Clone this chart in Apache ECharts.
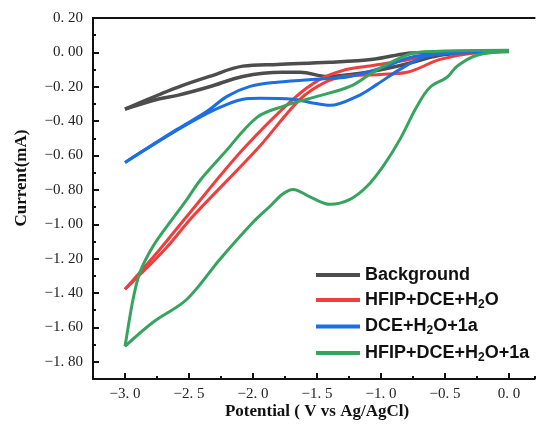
<!DOCTYPE html>
<html>
<head>
<meta charset="utf-8">
<script src="https://cdn.jsdelivr.net/npm/echarts@6/dist/echarts.min.js"></script>
<style>html,body{margin:0;padding:0;background:#fff;}#c{width:536px;height:431px;}</style>
</head>
<body>
<div id="c"></div>
<script>
// ---- data: [potential (V), current (mA)] ----
const backgroundFwd = [[0.0,0.005],[-0.30,-0.002],[-0.54,-0.017],[-0.85,-0.076],[-1.16,-0.122],[-1.42,-0.14],[-1.63,-0.116],[-1.77,-0.116],[-2.08,-0.14],[-2.34,-0.20],[-2.59,-0.25],[-2.73,-0.27],[-3.0,-0.33]];
const backgroundRev = [[-3.0,-0.33],[-2.73,-0.245],[-2.59,-0.203],[-2.34,-0.14],[-2.08,-0.08],[-1.81,-0.07],[-1.40,-0.058],[-1.06,-0.04],[-0.80,-0.006],[-0.62,0.0],[0.0,0.01]];

const hfipFwd = [[0.0,0.006],[-0.305,-0.006],[-0.539,-0.041],[-0.797,-0.116],[-1.008,-0.128],[-1.281,-0.14],[-1.438,-0.174],[-1.633,-0.273],[-1.969,-0.564],[-2.469,-0.953],[-2.688,-1.145],[-3.0,-1.378]];
const hfipRev = [[-3.0,-1.378],[-2.727,-1.145],[-2.516,-0.953],[-2.078,-0.564],[-1.688,-0.273],[-1.477,-0.157],[-1.297,-0.105],[-1.109,-0.081],[-0.852,-0.052],[-0.617,-0.017],[-0.383,0.0],[0.0,0.006]];

const dceFwd = [[0.0,0.006],[-0.461,0.0],[-0.672,-0.029],[-0.852,-0.099],[-1.031,-0.186],[-1.188,-0.256],[-1.398,-0.308],[-1.555,-0.291],[-1.688,-0.273],[-1.945,-0.267],[-2.078,-0.273],[-2.203,-0.302],[-2.359,-0.355],[-2.594,-0.453],[-3.0,-0.64]];
const dceRev = [[-3.0,-0.64],[-2.594,-0.448],[-2.359,-0.343],[-2.203,-0.256],[-2.023,-0.198],[-1.813,-0.174],[-1.398,-0.151],[-1.242,-0.14],[-0.984,-0.087],[-0.773,-0.029],[-0.594,-0.012],[0.0,0.006]];

const fullFwd = [[0.0,0.006],[-0.25,-0.017],[-0.406,-0.081],[-0.484,-0.145],[-0.617,-0.203],[-0.719,-0.314],[-0.852,-0.506],[-0.984,-0.663],[-1.109,-0.779],[-1.242,-0.855],[-1.398,-0.884],[-1.555,-0.84],[-1.688,-0.797],[-1.77,-0.825],[-1.867,-0.895],[-2.0,-0.988],[-2.258,-1.203],[-2.516,-1.436],[-2.781,-1.57],[-3.0,-1.71]];
const fullRev = [[-3.0,-1.71],[-2.98,-1.62],[-2.937,-1.436],[-2.883,-1.279],[-2.781,-1.128],[-2.648,-0.988],[-2.516,-0.855],[-2.414,-0.745],[-2.234,-0.593],[-1.969,-0.378],[-1.766,-0.314],[-1.5,-0.256],[-1.242,-0.198],[-1.063,-0.116],[-0.875,-0.041],[-0.719,0.0],[0.0,0.012]];

const seriesNames = ['Background','HFIP+DCE+H2O','DCE+H2O+1a','HFIP+DCE+H2O+1a'];
const seriesColors = ['#4d4d4d','#ef3e3e','#1b6ee3','#36a45e'];
const xMajorTicks = [-3.0,-2.5,-2.0,-1.5,-1.0,-0.5,0.0];
const yMajorTicks = [0.2,0.0,-0.2,-0.4,-0.6,-0.8,-1.0,-1.2,-1.4,-1.6,-1.8];

const chart = echarts.init(document.getElementById('c'), null, {renderer:'canvas'});
const serif = '"Liberation Serif", "DejaVu Serif", serif';
const fmt = (d) => (v) => {
  const s = Math.abs(v).toFixed(d).replace('.', '. ');
  return (v < -1e-9 ? '\u2212' : '') + s;
};
const axisCol = '#111';
const pairs = [[backgroundFwd,backgroundRev],[hfipFwd,hfipRev],[dceFwd,dceRev],[fullFwd,fullRev]];
const series = [];
pairs.forEach((p, i) => {
  p.forEach(d => series.push({
    name: seriesNames[i], type: 'line', data: d, smooth: 0.35,
    showSymbol: false, symbol: 'none',
    lineStyle: {color: seriesColors[i], width: i === 0 ? 3.5 : 3},
    itemStyle: {color: seriesColors[i]}, z: 2 + i
  }));
});

const xMin = -3.25, xMax = 0.2, yMin = -1.9, yMax = 0.2;
const option = {
  animation: false,
  backgroundColor: '#fff',
  grid: {left: 93, right: 1.4, top: 18, bottom: 52},
  xAxis: [
    {type:'value', min:xMin, max:xMax, position:'bottom',
     axisLine:{show:true, onZero:false, lineStyle:{color:axisCol, width:2}},
     axisTick:{show:true, inside:true, length:6, customValues:xMajorTicks, lineStyle:{color:axisCol, width:2}},
     axisLabel:{customValues:xMajorTicks, formatter:fmt(1), margin:8, fontFamily:serif, fontSize:15, color:'#222'},
     splitLine:{show:false}},
    {type:'value', min:xMin, max:xMax, interval:0.25, position:'bottom',
     axisLine:{show:false, onZero:false},
     axisTick:{show:true, inside:true, length:3, lineStyle:{color:axisCol, width:2}},
     axisLabel:{show:false}, splitLine:{show:false}},
    {type:'value', min:xMin, max:xMax, position:'top',
     axisLine:{show:true, onZero:false, lineStyle:{color:axisCol, width:2}},
     axisTick:{show:false}, axisLabel:{show:false}, splitLine:{show:false}}
  ],
  yAxis: [
    {type:'value', min:yMin, max:yMax, position:'left',
     axisLine:{show:true, onZero:false, lineStyle:{color:axisCol, width:2}},
     axisTick:{show:true, inside:true, length:6, customValues:yMajorTicks, lineStyle:{color:axisCol, width:2}},
     axisLabel:{customValues:yMajorTicks, formatter:fmt(2), margin:10, fontFamily:serif, fontSize:15, color:'#222'},
     splitLine:{show:false}},
    {type:'value', min:yMin, max:yMax, interval:0.1, position:'left',
     axisLine:{show:false, onZero:false},
     axisTick:{show:true, inside:true, length:3, lineStyle:{color:axisCol, width:2}},
     axisLabel:{show:false}, splitLine:{show:false}}
  ],
  legend: {
    data: seriesNames, orient:'vertical', left: 311, top: 261, itemGap: 7,
    icon: 'rect', itemWidth: 44, itemHeight: 4,
    formatter: (n) => n.replace('H2O', 'H{sub|2}O'),
    textStyle: {fontFamily:'"Liberation Sans", Arial, sans-serif', fontWeight:'bold', fontSize:18, color:'#111',
      rich: {sub: {fontFamily:'"Liberation Sans", Arial, sans-serif', fontWeight:'bold', fontSize:12, color:'#111', padding:[9,0,0,0], verticalAlign:'bottom'}}}
  },
  graphic: [
    {type:'text', x: 22, y: 178, rotation: Math.PI/2,
     style:{text:'Current(mA)', font:'bold 17px ' + serif, fill:'#111', textAlign:'center', textVerticalAlign:'middle'}},
    {type:'text', x: 317, y: 412,
     style:{text:'Potential ( V vs Ag/AgCl)', font:'bold 17px ' + serif, fill:'#111', textAlign:'center', textVerticalAlign:'middle'}}
  ],
  series: series
};
chart.setOption(option);
</script>
</body>
</html>
